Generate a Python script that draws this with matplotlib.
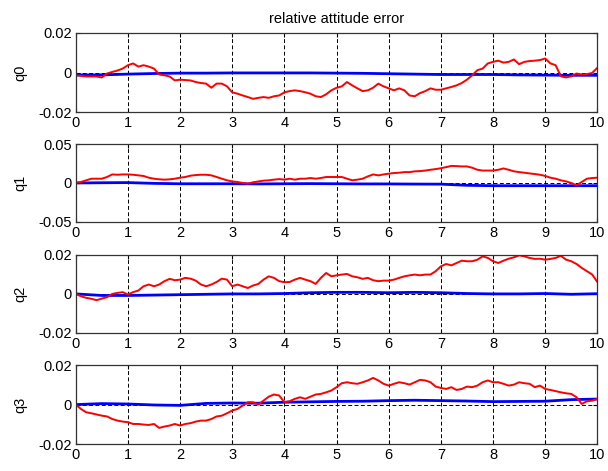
import numpy as np
import matplotlib
matplotlib.use('Agg')
import matplotlib.pyplot as plt

plt.rcParams['font.family'] = ['Liberation Sans', 'DejaVu Sans']
plt.rcParams['font.size'] = 9

# time axis for the red traces (0.1 s) and blue traces (0.5 s)
t_red = np.round(np.arange(0, 10.01, 0.1), 1)
t_blue = np.arange(0, 10.01, 0.5)

# q0
q0_red = [-0.0014, -0.0017, -0.002, -0.002, -0.002, -0.0025, -0.0005, 0.0003, 0.001, 0.002,
          0.0037, 0.0046, 0.003, 0.0037, 0.003, 0.002, -0.001, -0.0014, -0.002, -0.004,
          -0.0036, -0.0038, -0.004, -0.0048, -0.0053, -0.0056, -0.0077, -0.0056, -0.0056, -0.007,
          -0.01, -0.0107, -0.0116, -0.0124, -0.0133, -0.0128, -0.0124, -0.0128, -0.012, -0.0116,
          -0.01, -0.0094, -0.009, -0.0094, -0.01, -0.0107, -0.012, -0.0124, -0.011, -0.009,
          -0.0077, -0.007, -0.0048, -0.0065, -0.008, -0.0094, -0.009, -0.0077, -0.0056, -0.007,
          -0.008, -0.009, -0.008, -0.009, -0.0116, -0.012, -0.0104, -0.0094, -0.008, -0.0087,
          -0.0087, -0.008, -0.0073, -0.0065, -0.0053, -0.0036, -0.0014, 0.0012, 0.002, 0.0046,
          0.0054, 0.006, 0.005, 0.0054, 0.0066, 0.0042, 0.0054, 0.0058, 0.006, 0.0063,
          0.0071, 0.0046, 0.0037, -0.0019, -0.0025, -0.0019, -0.0005, -0.001, -0.0008, -0.0002,
          0.0024]
q0_blue = [-0.0012, -0.0012, -0.0008, -0.0005, -0.0003, -0.0003, -0.0002, -0.0002, -0.0002, -0.0002,
           -0.0003, -0.0004, -0.0006, -0.0008, -0.001, -0.001, -0.001, -0.0012, -0.0013, -0.0014,
           -0.0014]

# q1
q1_red = [0, 0.0013, 0.0034, 0.0055, 0.0055, 0.0055, 0.0077, 0.011, 0.0106, 0.011,
          0.011, 0.0106, 0.0098, 0.009, 0.0068, 0.0055, 0.0047, 0.0043, 0.0047, 0.0055,
          0.0068, 0.0077, 0.0094, 0.0102, 0.0106, 0.0106, 0.0098, 0.0077, 0.0055, 0.0034,
          0.002, 0.0013, 0, -0.0009, 0.0009, 0.002, 0.003, 0.0034, 0.0043, 0.005,
          0.0043, 0.0055, 0.0043, 0.0055, 0.0055, 0.0064, 0.0055, 0.0064, 0.0077, 0.0077,
          0.0077, 0.0077, 0.0055, 0.0034, 0.0043, 0.0055, 0.0085, 0.011, 0.0098, 0.011,
          0.012, 0.0128, 0.0132, 0.014, 0.014, 0.015, 0.0153, 0.016, 0.017, 0.0179,
          0.019, 0.0204, 0.022, 0.0217, 0.0213, 0.0213, 0.0196, 0.017, 0.016, 0.016,
          0.016, 0.017, 0.0187, 0.017, 0.015, 0.014, 0.0132, 0.0123, 0.0115, 0.0106,
          0.009, 0.0068, 0.0055, 0.0034, 0.002, 0, -0.003, 0.0013, 0.0055, 0.0064,
          0.0068]
q1_blue = [0, 0.0003, 0.0005, -0.0005, -0.001, -0.001, -0.001, -0.0012, -0.001, -0.0008,
           -0.001, -0.0012, -0.0012, -0.0014, -0.0015, -0.003, -0.0035, -0.0035, -0.0035, -0.0035,
           -0.0035]

# q2
q2_red = [0, -0.0012, -0.002, -0.0025, -0.0032, -0.0024, -0.0017, 0, 0.0005, 0.0009,
          -0.0003, 0.0009, 0.0017, 0.0039, 0.0048, 0.0039, 0.0048, 0.0065, 0.0077, 0.007,
          0.0073, 0.0082, 0.0078, 0.0068, 0.0048, 0.0039, 0.0048, 0.0061, 0.0078, 0.0073,
          0.0039, 0.0048, 0.0039, 0.003, 0.0043, 0.0051, 0.0073, 0.009, 0.0082, 0.0065,
          0.006, 0.0061, 0.0073, 0.0082, 0.0073, 0.0065, 0.0051, 0.0082, 0.0107, 0.009,
          0.0095, 0.0099, 0.0102, 0.009, 0.0085, 0.0077, 0.0082, 0.007, 0.0065, 0.0068,
          0.0068, 0.0073, 0.0082, 0.009, 0.0095, 0.0099, 0.0095, 0.0099, 0.0099, 0.0116,
          0.0141, 0.0153, 0.0146, 0.0158, 0.017, 0.0167, 0.0167, 0.0175, 0.0192, 0.0184,
          0.0167, 0.0158, 0.017, 0.018, 0.0187, 0.0197, 0.0192, 0.0184, 0.0179, 0.018,
          0.0175, 0.0179, 0.0184, 0.0195, 0.0175, 0.0167, 0.0153, 0.0133, 0.0116, 0.0099,
          0.0061]
q2_blue = [0, -0.0008, -0.0008, -0.0006, -0.0004, -0.0002, 0, 0, 0.0002, 0.0006,
           0.0008, 0.0008, 0.0006, 0.0008, 0.0006, 0.0002, 0, 0, 0.0002, -0.0002,
           0.0001]

# q3
q3_red = [0, -0.0022, -0.0039, -0.0044, -0.005, -0.0056, -0.006, -0.0073, -0.0081, -0.0086,
          -0.0089, -0.0098, -0.0098, -0.0101, -0.0103, -0.0098, -0.0118, -0.0111, -0.0106, -0.0098,
          -0.0106, -0.0098, -0.0094, -0.0086, -0.0081, -0.0081, -0.0073, -0.006, -0.0056, -0.0044,
          -0.003, -0.0022, -0.0005, 0.0012, 0.0012, 0, 0.002, 0.004, 0.0051, 0.0046,
          0.0012, 0.0017, 0.0029, 0.0037, 0.0029, 0.004, 0.0051, 0.0054, 0.0062, 0.0071,
          0.0088, 0.0108, 0.0113, 0.0108, 0.0105, 0.0113, 0.0122, 0.0135, 0.0122, 0.0105,
          0.0096, 0.0105, 0.0113, 0.0108, 0.0101, 0.0113, 0.0125, 0.0122, 0.0113, 0.0091,
          0.0084, 0.0079, 0.0088, 0.0074, 0.0079, 0.0091, 0.0088, 0.0096, 0.0113, 0.0122,
          0.0113, 0.0113, 0.0105, 0.0096, 0.0101, 0.0113, 0.0108, 0.0105, 0.0088, 0.0096,
          0.0079, 0.0074, 0.0068, 0.0062, 0.0057, 0.0054, 0.0037, 0.0003, 0.0017, 0.002,
          0.0029]
q3_blue = [0, 0.0005, 0.0003, -0.0002, -0.0004, 0.0006, 0.0008, 0.0007, 0.0012, 0.0014,
           0.0016, 0.0017, 0.002, 0.0022, 0.002, 0.0018, 0.0015, 0.0016, 0.0017, 0.0025,
           0.0028]

names = ['q0', 'q1', 'q2', 'q3']
reds = [q0_red, q1_red, q2_red, q3_red]
blues = [q0_blue, q1_blue, q2_blue, q3_blue]
ylims = [0.02, 0.05, 0.02, 0.02]
ytick_labels = [['-0.02', '0', '0.02'], ['-0.05', '0', '0.05'],
                ['-0.02', '0', '0.02'], ['-0.02', '0', '0.02']]

fig = plt.figure(figsize=(6.08, 4.71), dpi=100)
boxes = [[0.1245, 0.762, 0.858, 0.168],
         [0.1245, 0.529, 0.858, 0.165],
         [0.1245, 0.293, 0.858, 0.166],
         [0.1245, 0.057, 0.858, 0.168]]

for i in range(4):
    ax = fig.add_axes(boxes[i])
    lim = ylims[i]
    ax.plot(t_blue, blues[i], color='blue', lw=2.0)
    ax.plot(t_red, reds[i], color='red', lw=1.4)
    ax.set_xlim(0, 10)
    ax.set_ylim(-lim, lim)
    ax.set_xticks(range(11))
    ax.set_yticks([-lim, 0, lim])
    ax.set_yticklabels(ytick_labels[i])
    ax.grid(True, color='black', linestyle=(0, (4, 2.5)), linewidth=0.7)
    ax.tick_params(direction='in', top=True, right=True, length=3, pad=3, labelsize=10.5)
    for s in ax.spines.values():
        s.set_linewidth(0.9)
        s.set_color('#333333')
    ax.set_ylabel(names[i], fontsize=10.5, labelpad=8)
    if i == 0:
        ax.set_title('relative attitude error', fontsize=10.5, pad=7)

fig.savefig('out.png', dpi=100)
